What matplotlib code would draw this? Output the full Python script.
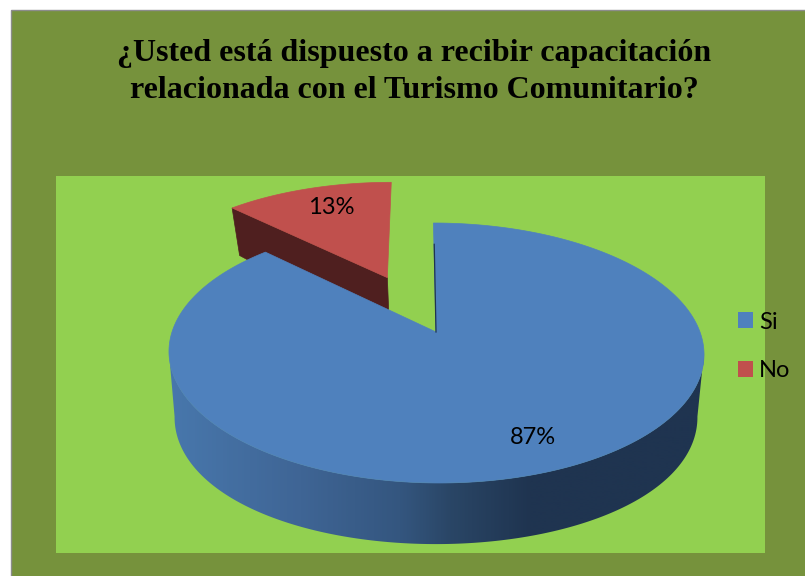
"""3D-looking exploded pie, drawn with patches on a full-figure pixel axes."""

import matplotlib

matplotlib.use("Agg")
import matplotlib.pyplot as plt
import numpy as np
from matplotlib.colors import LinearSegmentedColormap
from matplotlib.patches import Patch, Polygon, Rectangle

title_lines = [
    "¿Usted está dispuesto a recibir capacitación",
    "relacionada con el Turismo Comunitario?",
]
categories = ["Si", "No"]
shares = [87.4, 12.6]
colors = ["#4f81bd", "#c0504d"]
side_red = "#4f1f1f"
side_stops = [(165, "#4878ad"), (300, "#3f6595"), (400, "#34567f"),
              (450, "#2a4666"), (530, "#1f3450"), (710, "#1f3450")]

W, H = 805, 576
EXPLODE = 0.5


def top_xy(u, v):
    # perspective view of the unit disc, upper face
    w = 1 + 0.1615 * v
    return 436 + (264 * u - 3 * v) / w, 332 - 126.6 * v / w


def bottom_xy(u, v):
    # lower face, fitted separately
    x = 436 + 258 * u / (1 + 0.1615 * v)
    y = 395.2 - 134 * v / (1 + 0.1 * v)
    return x, y


def rim(a0, a1, n=300):
    a = np.radians(np.linspace(a0, a1, n))
    return np.sin(a), np.cos(a)


fig = plt.figure(figsize=(W / 100, H / 100), dpi=100, facecolor="white")
ax = fig.add_axes([0, 0, 1, 1])
ax.axis("off")

ax.add_patch(Rectangle((10.5, 9.5), W, H, fc="#76923c", ec="#8c8c8c", lw=1, zorder=1))
ax.add_patch(Rectangle((56, 176), 709, 377, fc="#92d050", ec="none", zorder=2))

split = 360 * shares[0] / sum(shares)

# exploded slice
mid = np.radians((split + 360) / 2)
du, dv = EXPLODE * np.sin(mid), EXPLODE * np.cos(mid)
ru, rv = rim(split, 360, 80)
x0, y0 = top_xy(ru[0] + du, rv[0] + dv)
xa, ya = top_xy(du, dv)
xb0, yb0 = bottom_xy(ru[0] + du, rv[0] + dv)
xba, yba = bottom_xy(du, dv)
ax.add_patch(Polygon([(x0, y0), (xa, ya), (xba, yba), (xb0, yb0)],
                     fc=side_red, ec=side_red, lw=0.5, zorder=3))
rx, ry = top_xy(ru + du, rv + dv)
ax.add_patch(Polygon(np.r_[[(xa, ya)], np.c_[rx, ry]], fc=colors[1], ec=colors[1],
                     lw=0.5, zorder=4))

# front wall of the big slice, gradient clipped to its outline
su, sv = rim(99, 261, 400)
tx, ty = top_xy(su, sv)
bx, by = bottom_xy(su, sv)
wall = Polygon(np.r_[np.c_[tx, ty], np.c_[bx, by][::-1]], fc="none", ec="none")
ax.add_patch(wall)
cmap = LinearSegmentedColormap.from_list(
    "wall", [((x - 165) / 545, c) for x, c in side_stops])
img = ax.imshow(np.linspace(0, 1, 545)[None, :], cmap=cmap, aspect="auto",
                extent=(165, 710, 560, 300), zorder=5)
img.set_clip_path(wall)

# big slice top
bu, bv = rim(0, split)
bx_top, by_top = top_xy(bu, bv)
xc, yc = top_xy(0, 0)
ax.add_patch(Polygon(np.r_[[(xc, yc)], np.c_[bx_top, by_top]], fc=colors[0],
                     ec=colors[0], lw=0.5, zorder=7))

# thin dark wall on the first cut of the big slice
x1, y1 = top_xy(0, 0.78)
ax.plot([x1 + 0.3, xc], [y1, yc], color="#1f3450", lw=0.9, zorder=7.5)

# labels
label_font = ["Lato", "DejaVu Sans"]
ax.text(533, 437, f"{round(shares[0])}%", ha="center", va="center", fontsize=17,
        family=label_font, zorder=8)
ax.text(331, 208, f"{round(shares[1])}%", ha="center", va="center", fontsize=17,
        family=label_font, zorder=8)

for i, line in enumerate(title_lines):
    ax.text(414, 54 + 37 * i, line, ha="center", va="center", fontsize=23,
            fontweight="bold", family="Liberation Serif", zorder=8)

handles = [Patch(fc=c, ec="none", label=n) for c, n in zip(colors, categories)]
leg = ax.legend(handles=handles, loc="center left", bbox_to_anchor=(738, 346.5),
                bbox_transform=ax.transData, frameon=False,
                prop={"family": "Lato", "size": 17}, handlelength=0.65,
                handleheight=0.65, handletextpad=0.25, labelspacing=1.18,
                borderpad=0, borderaxespad=0)
leg.set_zorder(8)

ax.set_xlim(0, W)
ax.set_ylim(H, 0)

fig.savefig("out.png", dpi=100, facecolor=fig.get_facecolor())
